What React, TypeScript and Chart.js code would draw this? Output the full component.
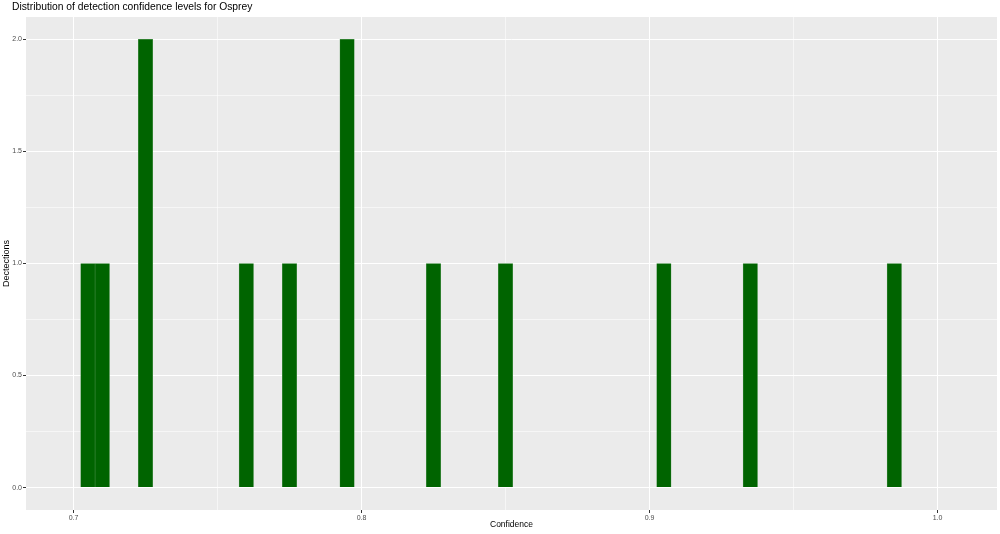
import React, { useEffect, useRef } from 'react';
import { Chart, registerables } from 'chart.js';

Chart.register(...registerables);

// Histogram bins (binwidth 0.005), centers and counts
const binCenters = [0.705, 0.71, 0.725, 0.76, 0.775, 0.795, 0.825, 0.85, 0.905, 0.935, 0.985];
const binCounts = [1, 1, 2, 1, 1, 2, 1, 1, 1, 1, 1];

const xMajorTicks = [0.7, 0.8, 0.9, 1.0];
const xMinorTicks = [0.75, 0.85, 0.95];
const yMajorTicks = [0, 0.5, 1, 1.5, 2];
const yMinorTicks = [0.25, 0.75, 1.25, 1.75];

const titleText = 'Distribution of detection confidence levels for Osprey';
const xTitle = 'Confidence';
const yTitle = 'Dectections';

const FONT = '"Liberation Sans", Arial, Helvetica, sans-serif';

const isIn = (arr: number[], v: number) => arr.some((t) => Math.abs(t - v) < 1e-9);

export default function App() {
  const ref = useRef<HTMLCanvasElement | null>(null);

  useEffect(() => {
    if (!ref.current) return;

    const bgPlugin = {
      id: 'ggbg',
      beforeDraw(chart: any) {
        const { ctx, chartArea } = chart;
        ctx.save();
        ctx.fillStyle = '#FFFFFF';
        ctx.fillRect(0, 0, chart.width, chart.height);
        ctx.fillStyle = '#EBEBEB';
        ctx.fillRect(chartArea.left, chartArea.top, chartArea.right - chartArea.left, chartArea.bottom - chartArea.top);
        ctx.restore();
      },
    };

    const textPlugin = {
      id: 'ggtext',
      afterDraw(chart: any) {
        const { ctx, chartArea } = chart;
        ctx.save();
        ctx.fillStyle = '#000000';
        ctx.textBaseline = 'middle';
        ctx.textAlign = 'left';
        ctx.font = `10.3px ${FONT}`;
        ctx.fillText(titleText, 12, 7.5);
        ctx.textAlign = 'center';
        ctx.font = `8.5px ${FONT}`;
        ctx.fillText(xTitle, (chartArea.left + chartArea.right) / 2, 525);
        ctx.font = `9px ${FONT}`;
        ctx.translate(7, (chartArea.top + chartArea.bottom) / 2);
        ctx.rotate(-Math.PI / 2);
        ctx.fillText(yTitle, 0, 0);
        ctx.restore();
      },
    };

    const chart = new Chart(ref.current, {
      type: 'bar',
      data: {
        datasets: [
          {
            data: binCenters.map((x, i) => ({ x, y: binCounts[i] })),
            backgroundColor: '#006400',
            borderColor: '#5f9e5f',
            borderWidth: 0.5,
            barPercentage: 1,
            categoryPercentage: 1,
          },
        ],
      },
      options: {
        responsive: false,
        animation: false,
        devicePixelRatio: 1,
        layout: { padding: { top: 17, right: 3, bottom: 0, left: 0 } },
        plugins: {
          legend: { display: false },
          tooltip: { enabled: false },
          title: { display: false },
        },
        scales: {
          x: {
            type: 'linear',
            offset: false,
            min: 0.68351,
            max: 1.02066,
            afterBuildTicks: (scale: any) => {
              scale.ticks = [...xMajorTicks, ...xMinorTicks].sort((a, b) => a - b).map((v) => ({ value: v }));
            },
            afterFit: (scale: any) => {
              scale.height = 24;
            },
            border: { display: false },
            grid: {
              offset: false,
              drawTicks: true,
              tickLength: 3,
              color: (c: any) => (c.tick && isIn(xMajorTicks, c.tick.value) ? '#FFFFFF' : 'rgba(255,255,255,0.55)'),
              lineWidth: 1,
              tickColor: (c: any) => (c.tick && isIn(xMajorTicks, c.tick.value) ? '#333333' : 'rgba(0,0,0,0)'),
            },
            ticks: {
              autoSkip: false,
              maxRotation: 0,
              padding: 1,
              color: '#4D4D4D',
              font: { family: FONT, size: 7 },
              callback: (v: any) => (isIn(xMajorTicks, Number(v)) ? Number(v).toFixed(1) : ''),
            },
          },
          y: {
            type: 'linear',
            min: -0.1,
            max: 2.1,
            afterBuildTicks: (scale: any) => {
              scale.ticks = [...yMajorTicks, ...yMinorTicks].sort((a, b) => a - b).map((v) => ({ value: v }));
            },
            afterFit: (scale: any) => {
              scale.width = 26;
            },
            border: { display: false },
            grid: {
              drawTicks: true,
              tickLength: 3,
              color: (c: any) => (c.tick && isIn(yMajorTicks, c.tick.value) ? '#FFFFFF' : 'rgba(255,255,255,0.55)'),
              lineWidth: 1,
              tickColor: (c: any) => (c.tick && isIn(yMajorTicks, c.tick.value) ? '#333333' : 'rgba(0,0,0,0)'),
            },
            ticks: {
              autoSkip: false,
              padding: 1,
              color: '#4D4D4D',
              font: { family: FONT, size: 7 },
              callback: (v: any) => (isIn(yMajorTicks, Number(v)) ? Number(v).toFixed(1) : ''),
            },
          },
        },
      },
      plugins: [bgPlugin, textPlugin],
    } as any);

    return () => chart.destroy();
  }, []);

  return (
    <div style={{ position: 'fixed', left: 0, top: 0, width: 1000, height: 534, background: '#FFFFFF' }}>
      <canvas ref={ref} width={1000} height={534} style={{ display: 'block', width: 1000, height: 534 }} />
    </div>
  );
}
